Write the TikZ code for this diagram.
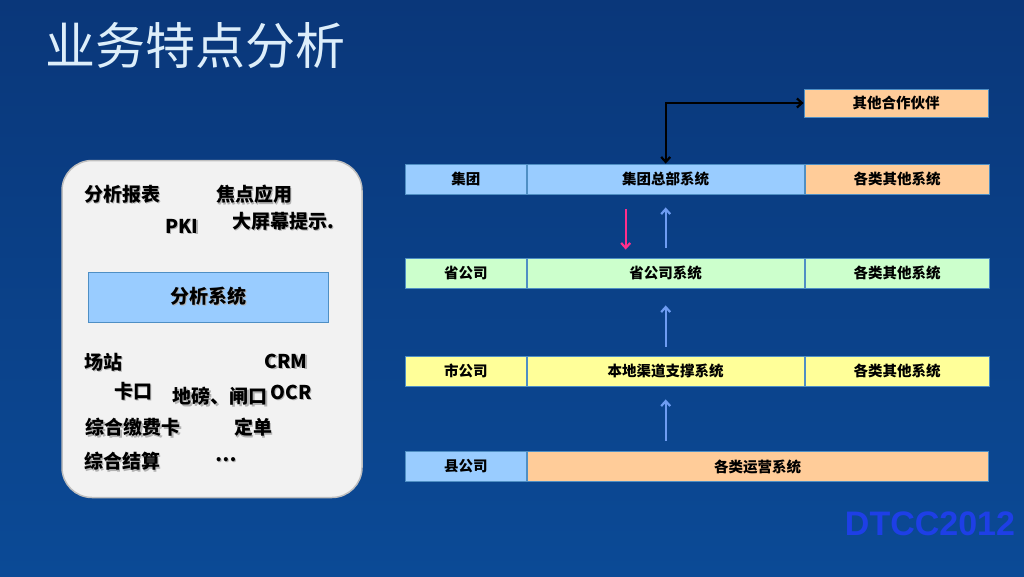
\documentclass[tikz,border=0pt]{standalone}
\usepackage{fontspec}
\setmainfont{Noto Sans CJK SC}
\newfontfamily\dtccfont{Liberation Sans}
\usetikzlibrary{positioning,arrows.meta}

\definecolor{fondoarriba}{HTML}{0A377A}
\definecolor{fondomedio}{HTML}{1767C4}
\definecolor{fondoabajo}{HTML}{0B4A96}
\definecolor{azulcelda}{HTML}{99CCFF}
\definecolor{verdecelda}{HTML}{CCFFCC}
\definecolor{amarillocelda}{HTML}{FFFF99}
\definecolor{naranjacelda}{HTML}{FFCC99}
\definecolor{bordecelda}{HTML}{4F8FC4}
\definecolor{flechaazulc}{HTML}{6E9CF2}
\definecolor{flecharosac}{HTML}{FF2F8C}
\definecolor{titulo}{HTML}{DDEEFA}
\definecolor{dtcc}{HTML}{1E3FE6}

% texto con sombra gris
\newcommand\sombra[1]{\makebox[0pt][l]{\raisebox{-1.5pt}{\hspace{1.5pt}\textcolor{black!30}{#1}}}#1}

\begin{document}
\begin{tikzpicture}[
        x=1pt, y=-1pt,
        every node/.style={inner sep=0pt, font=\bfseries\fontsize{14.5}{16}\selectfont},
        celda/.style={draw=bordecelda, line width=0.8pt, minimum height=30pt},
        fila1/.style={celda, fill=azulcelda},
        fila2/.style={celda, fill=verdecelda},
        fila3/.style={celda, fill=amarillocelda},
        naranja/.style={celda, fill=naranjacelda},
        etiqueta/.style={font=\bfseries\fontsize{19}{21}\selectfont},
        flechanegra/.style={{Straight Barb[length=5pt,width=9pt]}-{Straight Barb[length=5pt,width=9pt]}, line width=2.2pt, black},
        flechaazul/.style={-{Straight Barb[length=5pt,width=9pt]}, line width=2.2pt, flechaazulc},
        flecharosa/.style={-{Straight Barb[length=5pt,width=9pt]}, line width=2.2pt, flecharosac}
    ]
    \useasboundingbox (0,0) rectangle (1024,576);
    \shade[top color=fondoarriba, middle color=fondomedio, bottom color=fondoabajo] (0,0) rectangle (1024,576);

    \node[text=titulo, font=\fontsize{50}{54}\selectfont] (titulo) at (195,46) {业务特点分析};

    % panel izquierdo
    \node[draw=black!25, line width=1.5pt, fill=black!5, rounded corners=30pt,
          minimum width=300pt, minimum height=337pt] (panel) at (212,329) {};
    \node[draw=bordecelda, fill=azulcelda, minimum width=240pt, minimum height=50pt,
          etiqueta] (analisis) at (208,297) {\sombra{分析系统}};

    \node[etiqueta] (baobiao) at (122,195) {\sombra{分析报表}};
    \node[etiqueta] (jiaodian) at (254,195) {\sombra{焦点应用}};
    \node[etiqueta] (pki) at (182,227) {\sombra{PKI}};
    \node[etiqueta] (pantalla) at (283,222) {\sombra{大屏幕提示.}};
    \node[etiqueta] (changzhan) at (103,363) {\sombra{场站}};
    \node[etiqueta] (crm) at (286,362) {\sombra{CRM}};
    \node[etiqueta] (kakou) at (133,392) {\sombra{卡口}};
    \node[etiqueta] (dibang) at (220,397) {\sombra{地磅、闸口}};
    \node[etiqueta] (ocr) at (291,393) {\sombra{OCR}};
    \node[etiqueta] (jiaofei) at (133,428) {\sombra{综合缴费卡}};
    \node[etiqueta] (dingdan) at (253,428) {\sombra{定单}};
    \node[etiqueta] (jiesuan) at (122,462) {\sombra{综合结算}};
    \node[etiqueta] (puntos) at (226,460) {\sombra{…}};

    % filas de la derecha
    \node[naranja, minimum width=184pt, minimum height=28pt] (socio) at (896,103) {其他合作伙伴};

    \node[fila1, minimum width=121pt, anchor=west] (jituan) at (405,179) {集团};
    \node[fila1, minimum width=277pt, right=0pt of jituan] (jituansis) {集团总部系统};
    \node[naranja, minimum width=184pt, right=0pt of jituansis] (jituanotro) {各类其他系统};

    \node[fila2, minimum width=121pt, anchor=west] (sheng) at (405,273) {省公司};
    \node[fila2, minimum width=277pt, right=0pt of sheng] (shengsis) {省公司系统};
    \node[fila2, minimum width=184pt, right=0pt of shengsis] (shengotro) {各类其他系统};

    \node[fila3, minimum width=121pt, anchor=west] (shi) at (405,371) {市公司};
    \node[fila3, minimum width=277pt, right=0pt of shi] (shisis) {本地渠道支撑系统};
    \node[fila3, minimum width=184pt, right=0pt of shisis] (shiotro) {各类其他系统};

    \node[fila1, minimum width=121pt, anchor=west] (xian) at (405,466.5) {县公司};
    \node[naranja, minimum width=461pt, right=0pt of xian] (xiansis) {各类运营系统};

    \draw [flechanegra] (jituansis.north) |- (socio.west);
    \draw [flecharosa, shorten <=15pt, shorten >=8pt] ([xshift=-40pt]jituansis.south) -- ([xshift=-40pt]shengsis.north);
    \draw [flechaazul, shorten <=10pt, shorten >=13pt] (shengsis) -- (jituansis);
    \draw [flechaazul, shorten <=9pt, shorten >=17pt] (shisis) -- (shengsis);
    \draw [flechaazul, shorten <=10pt, shorten >=13pt] (xiansis.north -| shisis.south) -- (shisis);

    \node[text=dtcc, font=\dtccfont\bfseries\fontsize{34}{36}\selectfont] (dtcc) at (930,524) {DTCC2012};
\end{tikzpicture}
\end{document}
